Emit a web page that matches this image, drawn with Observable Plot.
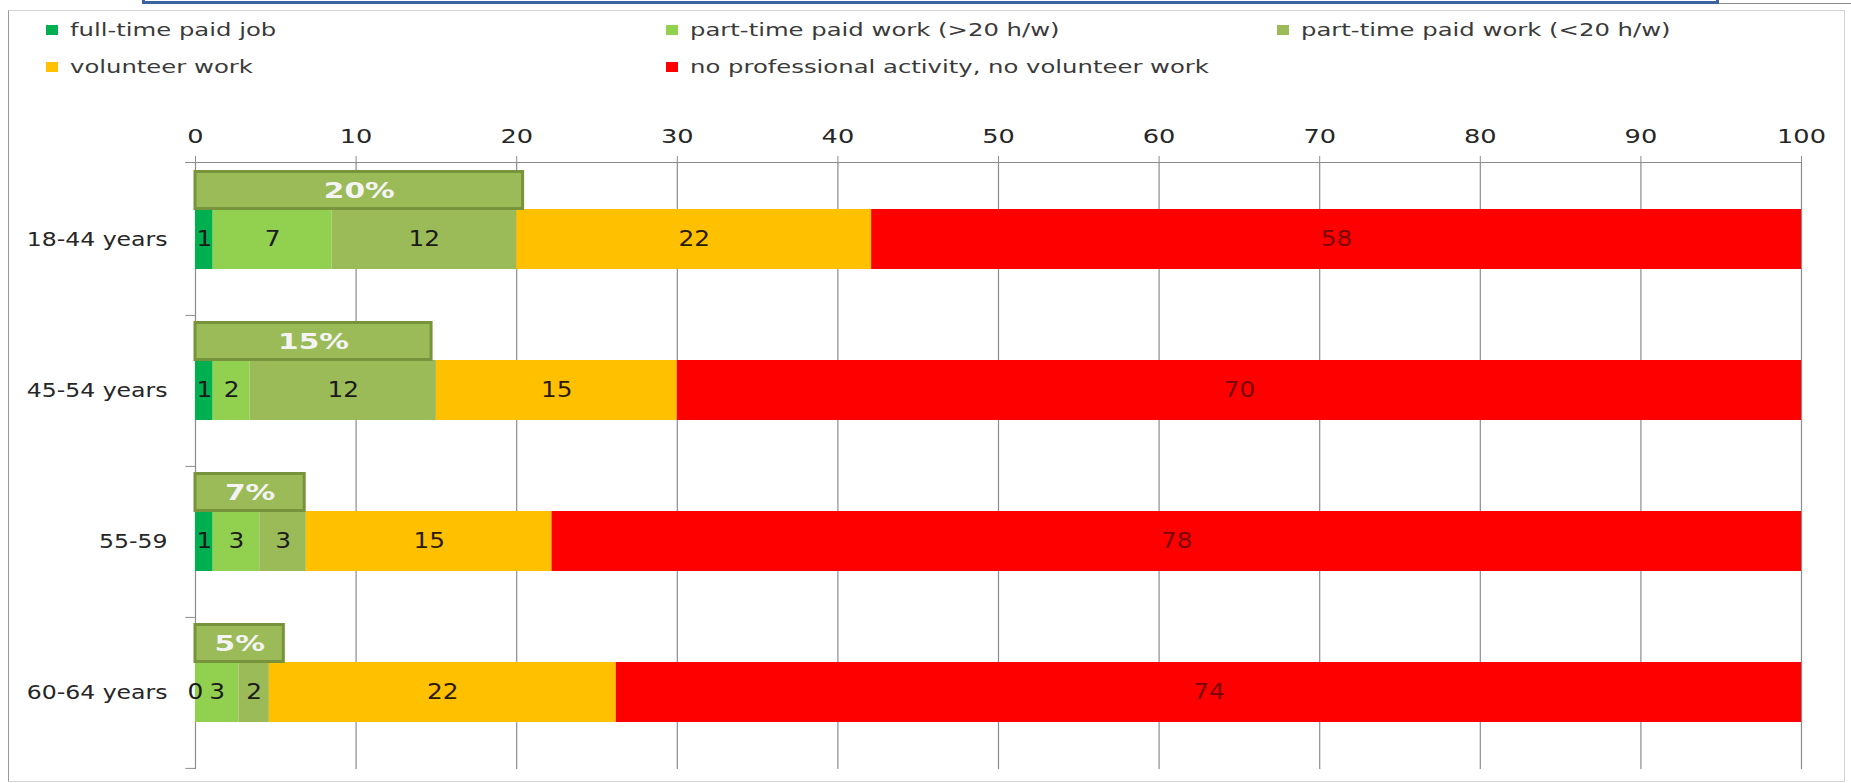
<!DOCTYPE html>
<html>
<head>
<meta charset="utf-8">
<script src="https://cdn.jsdelivr.net/npm/d3@7"></script>
<script src="https://cdn.jsdelivr.net/npm/@observablehq/plot@0.6"></script>
<style>
html, body { margin: 0; padding: 0; background: #fff; }
#wrap { position: relative; width: 1851px; height: 783px; overflow: hidden; font-family: "DejaVu Sans", sans-serif; }
.frame { position: absolute; left: 8px; top: 10px; width: 1837px; height: 772px; box-sizing: border-box;
  border: 1px solid #d4d4d4; border-left: 1px solid #9a9a9a; }
.titlebox { position: absolute; left: 142px; top: -40px; width: 1577px; height: 44px; box-sizing: border-box;
  border: 3px solid #3d62a0; background: #fff; }
.topline { position: absolute; left: 1719px; top: 3px; width: 132px; height: 1px; background: #8c8c8c; }
#legend { position: absolute; left: 0; top: 0; width: 1851px; height: 100px; }
.item { position: absolute; height: 20px; }
.sw { position: absolute; left: 0; top: 5px; width: 12px; height: 10px; }
.lt { position: absolute; left: 24px; top: 0; line-height: 20px; font-size: 17px; color: #3a3a3a; white-space: nowrap;
  transform: scaleX(1.43); transform-origin: 0 50%; }
#chart { position: absolute; left: 0; top: 100px; }
</style>
</head>
<body>
<div id="wrap">
  <div class="frame"></div>
  <div class="titlebox"></div>
  <div class="topline"></div>
  <div id="legend"></div>
  <div id="chart"></div>
</div>
<script>
// ---- data ----
const ageGroups = ["18-44 years", "45-54 years", "55-59", "60-64 years"];
const seriesNames = [
  "full-time paid job",
  "part-time paid work (>20 h/w)",
  "part-time paid work (<20 h/w)",
  "volunteer work",
  "no professional activity, no volunteer work"
];
const seriesColors = ["#00b050", "#92d050", "#9bbb59", "#ffc000", "#ff0000"];
const labelColors = ["#1a1a1a", "#1a1a1a", "#1a1a1a", "#2a1a00", "#7a0000"];
const fullTime        = [1.1, 1.1, 1.1, 0];
const partTimeOver20  = [7.4, 2.3, 2.9, 2.7];
const partTimeUnder20 = [11.5, 11.6, 2.9, 1.9];
const volunteer       = [22.1, 15.0, 15.3, 21.6];
const noActivity      = [57.9, 70.0, 77.8, 73.8];
const paidShare  = [20, 15, 7, 5];          // callout percentages
const calloutEnd = [20.4, 14.7, 6.8, 5.5];  // right edge of each callout box (x units)
const xTicks = [0, 10, 20, 30, 40, 50, 60, 70, 80, 90, 100];
// legend layout (two rows)
const legendRows = [[0, 1, 2], [3, 4]];

// ---- legend (HTML, above the SVG) ----
const legendColX = [46, 666, 1277];
const legendRowY = [20, 57];
const legend = document.getElementById("legend");
legendRows.forEach((row, r) => row.forEach((si, c) => {
  const it = document.createElement("div");
  it.className = "item";
  it.style.left = legendColX[c] + "px";
  it.style.top = legendRowY[r] + "px";
  const sw = document.createElement("div");
  sw.className = "sw";
  sw.style.background = seriesColors[si];
  const lt = document.createElement("span");
  lt.className = "lt";
  lt.textContent = seriesNames[si];
  it.appendChild(sw); it.appendChild(lt);
  legend.appendChild(it);
}));

// ---- long table for the stacked bars ----
const seriesValues = [fullTime, partTimeOver20, partTimeUnder20, volunteer, noActivity];
const rows = [];
ageGroups.forEach((age, i) => seriesNames.forEach((s, j) => rows.push({
  age, series: s, value: seriesValues[j][i], color: seriesColors[j], labelColor: labelColors[j]
})));

const chart = Plot.plot({
  width: 1851,
  height: 683,
  marginTop: 62,
  marginBottom: 14,
  marginLeft: 195,
  marginRight: 50,
  style: { fontFamily: "DejaVu Sans, sans-serif", fontSize: "19px", color: "#262626", background: "transparent", overflow: "visible" },
  x: { domain: [0, 100], axis: null },
  y: { domain: ageGroups, paddingInner: 0.605, paddingOuter: 0.3025, axis: null },
  color: { type: "identity" },
  marks: [
    Plot.gridX(xTicks, { stroke: "#8c8c8c", strokeOpacity: 1, strokeWidth: 1.2 }),
    Plot.frame({ anchor: "top", stroke: "#8c8c8c", insetLeft: -10 }),
    Plot.axisX(xTicks, { anchor: "top", tickSize: 7, tickPadding: 13, stroke: "#8c8c8c", fill: "#262626", label: null, fontSize: 20, tickFormat: d => String(d) }),
    Plot.axisY({ tickSize: 0, tickPadding: 28, fill: "#262626", label: null, fontSize: 19 }),
    Plot.ruleY(ageGroups, { y: d => d, x1: -0.6, x2: 0, dy: 75.9, stroke: "#8c8c8c" }),
    Plot.barX(rows, Plot.stackX({ x: "value", y: "age", fill: "color", z: "series" })),
    Plot.text(rows, Plot.stackX({
      x: "value", y: "age", z: "series",
      text: d => String(Math.round(d.value)),
      fill: "labelColor", fontSize: 21, ariaDescription: "segment values"
    })),
    Plot.barX(ageGroups, {
      x1: 0, x2: (d, i) => calloutEnd[i], y: d => d, dy: -49, insetTop: 11.5, insetBottom: 11.5,
      fill: "#9bbb59", stroke: "#77933c", strokeWidth: 3
    }),
    Plot.text(ageGroups, {
      x: (d, i) => calloutEnd[i] / 2, y: d => d, dy: -49,
      text: (d, i) => paidShare[i] + "%",
      fill: "#f4f4f4", fontWeight: "bold", fontSize: 22, ariaDescription: "paid work share"
    })
  ]
});
document.getElementById("chart").appendChild(chart);

// horizontally widen text to match the stretched look of the original
chart.querySelectorAll("text").forEach(t => {
  const g = t.closest("g[aria-label]");
  const lab = g ? g.getAttribute("aria-label") : "";
  const desc = g ? (g.getAttribute("aria-description") || "") : "";
  let s = 1;
  if (lab === "x-axis tick label") s = 1.28;
  else if (lab === "y-axis tick label") s = 1.24;
  else if (desc === "segment values") s = 1.18;
  else if (desc === "paid work share") s = 1.35;
  if (s !== 1) {
    const w = t.getComputedTextLength();
    if (w > 0) {
      t.setAttribute("textLength", (w * s).toFixed(1));
      t.setAttribute("lengthAdjust", "spacingAndGlyphs");
    }
  }
});
</script>
</body>
</html>
